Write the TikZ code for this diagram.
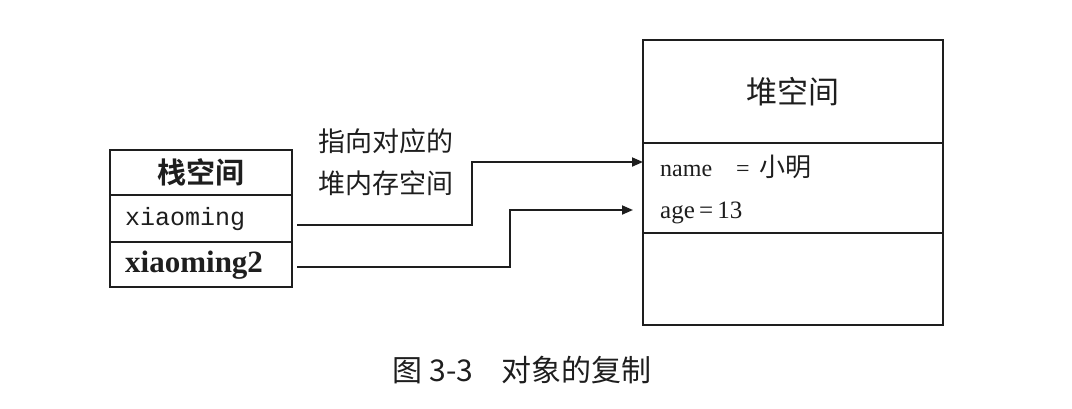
\documentclass[tikz,border=0pt]{standalone}
\usepackage{fontspec}
\setmainfont{Liberation Serif}
\setmonofont{Liberation Mono}
\newfontfamily\cjk{Noto Sans CJK SC}[BoldFont={Noto Sans CJK SC Bold}]
\usetikzlibrary{arrows.meta}
\definecolor{ink}{HTML}{1E1E1E}
\tikzset{
  cell/.style={draw=ink, line width=1.8pt, minimum width=182pt, inner sep=0pt, outer sep=0pt},
  hcell/.style={draw=ink, line width=1.8pt, minimum width=300pt, inner sep=0pt, outer sep=0pt},
  txt/.style={text=ink, inner sep=0pt, anchor=west},
  conn/.style={draw=ink, line width=1.8pt, -{Triangle[length=11pt,width=9pt]}}
}
\begin{document}
\begin{tikzpicture}[x=1pt,y=-1pt]
\useasboundingbox (0,0) rectangle (1072,408);
% stack
\node[cell, minimum height=45pt, text=ink] (sh) at (201,172.5) {\fontsize{29}{31}\selectfont\cjk\bfseries 栈空间};
\node[cell, minimum height=47pt] (s1) at (201,218.5) {};
\node[cell, minimum height=45pt] (s2) at (201,264.5) {};
\node[txt] (t1) at (125,219) {\fontsize{25}{27}\selectfont\ttfamily xiaoming};
\node[txt] (t2) at (125,265) {\fontsize{31}{33}\selectfont\bfseries xiaoming2};
% heap
\node[hcell, minimum height=103pt, text=ink] (hh) at (793,91.5) {\fontsize{31}{33}\selectfont\cjk 堆空间};
\node[hcell, minimum height=90pt] (hf) at (793,188) {};
\node[hcell, minimum height=92pt] (he) at (793,279) {};
\node[txt] (f1) at (660,167) {\fontsize{24}{26}\selectfont name\hspace{24pt}=\hspace{10pt}{\fontsize{26}{28}\selectfont\cjk 小明}};
\node[txt] (f2) at (660,213) {\fontsize{25}{27}\selectfont age\,=\,13};
% label
\node[txt] (l1) at (318,141) {\fontsize{27}{29}\selectfont\cjk 指向对应的};
\node[txt] (l2) at (318,183) {\fontsize{27}{29}\selectfont\cjk 堆内存空间};
% connectors
\coordinate (a1s) at (297,225);
\coordinate (a1e) at (643,162);
\coordinate (a2s) at (297,267);
\coordinate (a2e) at (633,210);
\draw[conn] (a1s) -- (472,225) -- (472,162) -- (a1e);
\draw[conn] (a2s) -- (510,267) -- (510,210) -- (a2e);
% caption
\node[text=ink] (cap) at (522,370) {\fontsize{30}{32}\selectfont\cjk 图 3-3\hspace{28pt}对象的复制};
\end{tikzpicture}
\end{document}
